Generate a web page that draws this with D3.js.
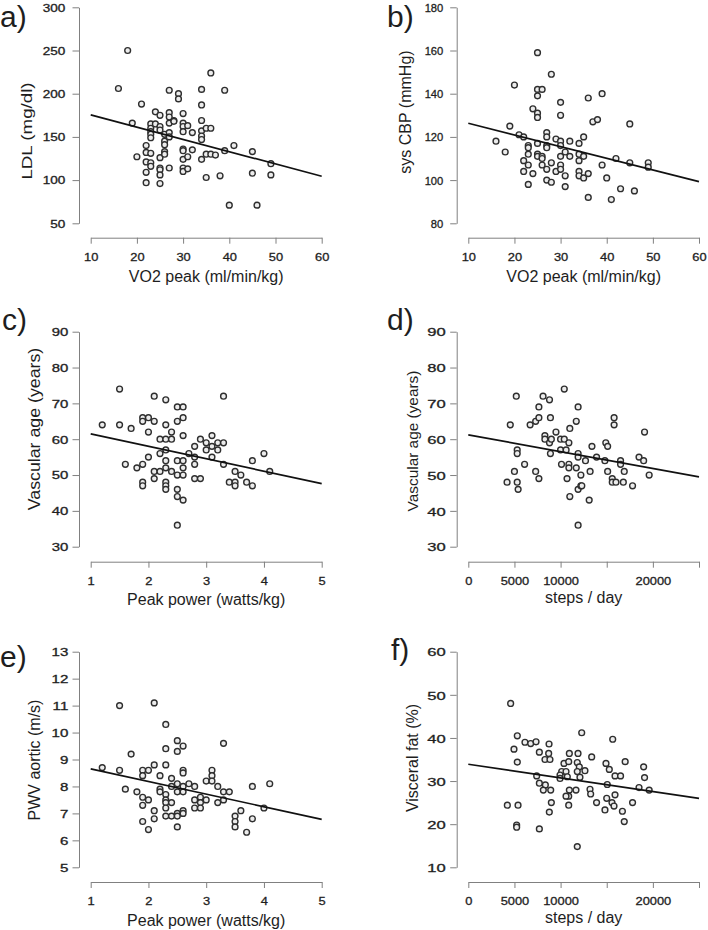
<!DOCTYPE html>
<html><head><meta charset="utf-8">
<script src="https://cdn.jsdelivr.net/npm/d3@7"></script>
<style>
body{margin:0;background:#fff}
svg{display:block}
text{font-family:"Liberation Sans",Arial,Helvetica,sans-serif;fill:#1e1e1e}
.tick text{stroke:#1e1e1e;stroke-width:0.3px}
</style>
</head><body>
<svg id="chart" width="708" height="930"></svg>
<script>
// ---------------- DATA ----------------
// a) VO2 peak vs LDL
const aVO2 = [18,16,21,19,20,22,22,22,22,22,23,23,23,23,23,23,23,23,24,24,25,25,25,25,25,25,25,25,26,26,26,26,26,27,27,27,27,27,27,27,28,28,29,29,30,30,30,30,30,30,30,30,30,31,31,31,32,32,34,34,34,34,34,34,34,35,35,35,36,36,36,37,38,39,39,40,41,45,45,46,49,49];
const aLDL = [250,206,188,166,127,140,121,109,97,132,165,160,156,153,149,131,120,116,179,165,175,162,158,126,114,112,106,96,153,145,141,133,130,204,178,173,166,155,150,114,169,168,200,194,177,166,162,156,136,134,124,114,110,163,127,113,155,135,205,187,169,157,151,147,124,160,130,103,224,160,130,129,105,204,134,71,140,133,108,71,119,106];
const aFit = [[10,175.5],[60,104.5]];
const vo2Ticks = [10,20,30,40,50,60];
const ldlTicks = [50,100,150,200,250,300];

// b) VO2 peak vs systolic central BP
const bVO2 = [16,18,19,20,21,22,22,22,23,23,23,23,23,24,24,25,25,25,25,25,25,25,25,26,26,26,26,27,27,27,27,27,27,28,28,28,29,29,30,30,30,30,30,30,30,31,31,31,32,32,34,34,34,34,34,35,35,35,36,36,36,37,38,39,39,40,41,42,43,45,45,46,49,49];
const bCBP = [118,113,125,144,121,120,109,104,116,115,112,107,98,133,103,159,142,139,131,129,117,112,111,142,111,110,107,122,120,116,115,105,100,149,108,99,119,104,136,130,118,116,111,107,105,102,97,113,118,111,117,112,109,104,102,120,111,101,138,103,92,127,128,140,107,101,91,110,96,126,108,95,108,106];
const bFit = [[10,126.3],[60,99.3]];
const cbpTicks = [80,100,120,140,160,180];

// c) Peak power vs vascular age
const cPow = [1.2,1.5,1.5,1.6,1.7,1.8,1.9,1.9,1.9,1.9,1.9,2.0,2.0,2.0,2.1,2.1,2.1,2.1,2.2,2.2,2.2,2.3,2.3,2.3,2.3,2.3,2.3,2.3,2.3,2.3,2.4,2.4,2.4,2.5,2.5,2.5,2.5,2.5,2.5,2.5,2.6,2.6,2.6,2.6,2.6,2.6,2.6,2.7,2.8,2.8,2.8,2.8,2.9,2.9,3.0,3.0,3.1,3.1,3.1,3.2,3.2,3.3,3.3,3.3,3.4,3.5,3.5,3.5,3.6,3.7,3.8,3.8,4.0,4.1];
const cAge = [64,74,64,53,63,52,66,65,53,48,47,66,62,55,72,65,51,49,60,56,51,71,64,60,57,54,52,48,47,46,62,60,51,69,65,54,50,46,44,36,69,66,61,54,52,50,43,56,58,55,53,49,60,49,59,57,61,58,55,59,57,72,59,53,48,51,48,47,50,48,54,47,56,51];
const cFit = [[1,61.5],[5,47.6]];
const powTicks = [1,2,3,4,5];
const ageTicks = [30,40,50,60,70,80,90];

// d) Steps per day vs vascular age
const dSteps = [4200,4550,5000,5200,5300,5300,5300,5400,6100,6700,7300,7300,7650,7650,7650,8100,8300,8300,8800,8800,8900,8900,9000,9500,10000,10000,10100,10400,10400,10600,10700,10900,10900,10900,11000,11000,11700,11700,11900,11900,11900,11900,11900,12200,12300,12200,12700,13100,13200,13400,13900,14800,14900,15100,15100,15600,15600,15800,15800,16000,16500,16500,16900,16800,17800,18500,19000,19100,19600];
const dAge = [48,64,51,72,57,56,48,46,53,64,65,51,66,69,49,72,61,60,71,59,66,56,60,62,60,57,53,74,60,57,49,59,53,52,63,44,65,52,69,56,55,46,36,47,47,50,54,43,51,58,55,54,59,58,51,49,48,66,64,48,54,53,51,48,47,55,54,62,50];
const dFit = [[0,61.2],[25000,49.5]];
const stepTicks = [0,5000,10000,15000,20000,25000];
const stepLabels = ["0","5000","10000","","20000",""];

// e) Peak power vs aortic PWV
const ePow = [1.2,1.5,1.5,1.6,1.7,1.8,1.9,1.9,1.9,1.9,1.9,2.0,2.0,2.0,2.1,2.1,2.1,2.1,2.2,2.2,2.2,2.3,2.3,2.3,2.3,2.3,2.3,2.3,2.3,2.4,2.4,2.4,2.4,2.5,2.5,2.5,2.5,2.5,2.5,2.5,2.6,2.6,2.6,2.6,2.6,2.6,2.6,2.7,2.8,2.8,2.8,2.9,2.9,2.9,3.0,3.0,3.1,3.1,3.1,3.2,3.2,3.3,3.3,3.3,3.4,3.5,3.5,3.5,3.6,3.7,3.8,3.8,4.0,4.1];
const ePWV = [8.7,11.0,8.6,7.9,9.2,7.8,8.6,8.4,7.6,7.3,6.7,8.6,7.5,6.4,11.1,8.8,7.1,6.8,8.4,7.9,7.8,10.3,9.4,8.8,7.7,7.5,7.4,7.2,6.9,8.3,8.0,7.4,6.9,9.7,9.3,8.1,7.8,7.0,6.9,6.5,9.5,8.6,8.5,8.0,7.8,7.1,7.0,8.1,8.0,7.5,7.2,7.6,7.4,7.2,8.2,7.5,8.6,8.4,8.2,8.0,7.4,9.6,7.8,7.5,7.8,6.9,6.7,6.5,7.1,6.3,8.0,6.8,7.2,8.1];
const eFit = [[1,8.65],[5,6.78]];
const pwvTicks = [5,6,7,8,9,10,11,12,13];

// f) Steps per day vs visceral fat
const fSteps = [4590,5310,4950,5310,6140,6760,7340,7700,8750,8710,8310,8850,7410,7700,8350,8930,8130,9000,8780,7700,4230,5390,5240,5240,11810,12290,10950,11890,10370,10880,11810,12030,10120,9940,9940,10590,10730,11810,12100,12640,13370,13190,13260,11670,10950,10880,10590,10880,13900,14920,15280,15650,15900,15060,15000,14810,15570,15900,15790,16500,16700,16900,17000,17800,18500,19000,19100,19600];
const fFat = [48.0,40.5,37.4,34.4,39.0,38.7,39.1,36.7,38.6,36.4,35.0,35.0,31.2,29.5,29.1,27.9,27.9,25.0,22.8,18.9,24.4,24.4,19.8,19.3,14.8,41.2,36.4,36.4,34.1,34.5,34.3,33.3,32.2,31.4,30.6,32.2,31.0,32.2,30.9,32.4,35.6,28.1,27.0,27.9,27.9,26.5,26.5,24.4,25.0,34.1,32.7,39.7,31.2,29.2,26.0,23.3,25.0,26.8,24.2,31.2,23.0,20.6,34.5,25.0,28.5,33.3,30.8,27.9];
const fFit = [[0,33.9],[25000,26.0]];
const fatTicks = [10,20,30,40,50,60];

// ---------------- LAYOUT ----------------
const cols = [{axisX:79, x0:90.7, x1:321.7},{axisX:456.7, x0:468.3, x1:699}];
const rows = [{top:7.3, bottom:223.3, xAxisY:237.7},{top:331.7, bottom:546.7, xAxisY:561.7},{top:651.7, bottom:867.3, xAxisY:882}];

const panels = [
 {letter:"a)", lx:0, ly:26.7, col:0,row:0, xs:aVO2, ys:aLDL, fit:aFit, xTicks:vo2Ticks, xLabels:vo2Ticks.map(String), yTicks:ldlTicks,
  xTitle:"VO2 peak (ml/min/kg)", xTitleOff:44, yTitle:"LDL (mg/dl)", ytFs:15, ytSx:1.25, ytX:31.8, ytY:131, ykFs:10.5, ykSx:1.29, ykOff:13.7},
 {letter:"b)", lx:387, ly:26.7, col:1,row:0, xs:bVO2, ys:bCBP, fit:bFit, xTicks:vo2Ticks, xLabels:vo2Ticks.map(String), yTicks:cbpTicks,
  xTitle:"VO2 peak (ml/min/kg)", xTitleOff:44, yTitle:"sys CBP (mmHg)", ytFs:16, ytSx:1.0, ytX:410.5, ytY:112, ykFs:11.2, ykSx:1.0, ykOff:13.4},
 {letter:"c)", lx:2, ly:330, col:0,row:1, xs:cPow, ys:cAge, fit:cFit, xTicks:powTicks, xLabels:powTicks.map(String), yTicks:ageTicks,
  xTitle:"Peak power (watts/kg)", xTitleOff:43.3, yTitle:"Vascular age (years)", ytFs:15.8, ytSx:1.125, ytX:39.7, ytY:429, ykFs:10.8, ykSx:1.38, ykOff:10.7},
 {letter:"d)", lx:387, ly:330, col:1,row:1, xs:dSteps, ys:dAge, fit:dFit, xTicks:stepTicks, xLabels:stepLabels, yTicks:ageTicks,
  xTitle:"steps / day", xTitleOff:41.6, yTitle:"Vascular age (years)", ytFs:15.4, ytSx:1.0, ytX:417.5, ytY:441, ykFs:11.6, ykSx:1.43, ykOff:11},
 {letter:"e)", lx:0, ly:667, col:0,row:2, xs:ePow, ys:ePWV, fit:eFit, xTicks:powTicks, xLabels:powTicks.map(String), yTicks:pwvTicks,
  xTitle:"Peak power (watts/kg)", xTitleOff:44, yTitle:"PWV aortic (m/s)", ytFs:16, ytSx:1.0, ytX:39.6, ytY:760, ykFs:10.8, ykSx:1.4, ykOff:10.7},
 {letter:"f)", lx:391, ly:660, col:1,row:2, xs:fSteps, ys:fFat, fit:fFit, xTicks:stepTicks, xLabels:stepLabels, yTicks:fatTicks,
  xTitle:"steps / day", xTitleOff:41.3, yTitle:"Visceral fat (%)", ytFs:16, ytSx:1.0, ytX:417.5, ytY:758, ykFs:11.6, ykSx:1.43, ykOff:11}
];

const axisColor = "#808080";
const svg = d3.select("#chart");

panels.forEach(p => {
  const c = cols[p.col], r = rows[p.row];
  const x = d3.scaleLinear().domain(d3.extent(p.xTicks)).range([c.x0, c.x1]);
  const y = d3.scaleLinear().domain(d3.extent(p.yTicks)).range([r.bottom, r.top]);
  const g = svg.append("g");

  // y axis
  const ya = g.append("g").attr("transform", `translate(${c.axisX},0)`)
    .call(d3.axisLeft(y).tickValues(p.yTicks).tickSize(6.5).tickSizeOuter(0))
    .attr("font-size", null).attr("font-family", null);
  ya.select(".domain").attr("stroke", axisColor);
  ya.selectAll(".tick line").attr("stroke", axisColor);
  ya.selectAll(".tick text")
    .attr("x", 0).attr("dy", null).attr("fill", "#1e1e1e")
    .attr("text-anchor", "end")
    .style("font-size", p.ykFs + "px")
    .attr("transform", `translate(${-p.ykOff},${(p.ykFs*0.36).toFixed(2)}) scale(${p.ykSx},1)`);

  // x axis
  const xa = g.append("g").attr("transform", `translate(0,${r.xAxisY})`)
    .call(d3.axisBottom(x).tickValues(p.xTicks).tickFormat((d,i) => p.xLabels[i]).tickSize(6).tickSizeOuter(0))
    .attr("font-size", null).attr("font-family", null);
  xa.select(".domain").attr("stroke", axisColor);
  xa.selectAll(".tick line").attr("stroke", axisColor);
  xa.selectAll(".tick text")
    .attr("y", 0).attr("dy", null).attr("fill", "#1e1e1e")
    .attr("text-anchor", "middle")
    .style("font-size", "11.5px")
    .attr("transform", `translate(0,23) scale(1.12,1)`);

  // points
  const pts = p.xs.map((v,i) => [v, p.ys[i]]);
  g.append("g").selectAll("circle").data(pts).join("circle")
    .attr("cx", d => x(d[0])).attr("cy", d => y(d[1])).attr("r", 2.9)
    .attr("fill", "#ececec").attr("stroke", "#2e2e2e").attr("stroke-width", 1.4);

  // regression line
  g.append("line")
    .attr("x1", x(p.fit[0][0])).attr("y1", y(p.fit[0][1]))
    .attr("x2", x(p.fit[1][0])).attr("y2", y(p.fit[1][1]))
    .attr("stroke", "#111").attr("stroke-width", 1.7);

  // titles
  g.append("text")
    .attr("transform", `translate(${(c.x0+c.x1)/2},${r.xAxisY + p.xTitleOff})`)
    .attr("text-anchor", "middle").style("font-size", "16px").text(p.xTitle);
  g.append("text")
    .attr("transform", `translate(${p.ytX},${p.ytY}) rotate(-90) scale(${p.ytSx},1)`)
    .attr("text-anchor", "middle").style("font-size", p.ytFs + "px").text(p.yTitle);

  // panel letter
  g.append("text").attr("x", p.lx).attr("y", p.ly).style("font-size", "30px").text(p.letter);
});
</script>
</body></html>
